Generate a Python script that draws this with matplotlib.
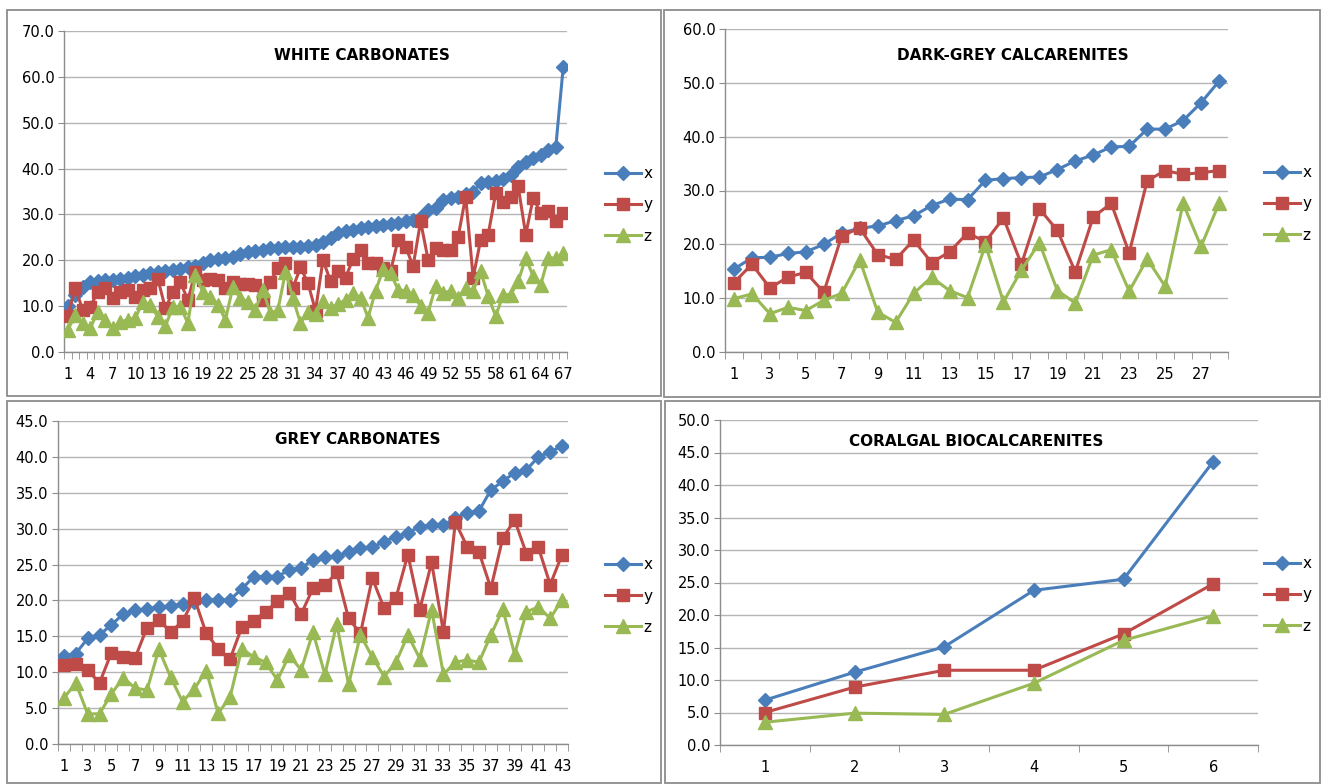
import matplotlib
matplotlib.use('Agg')
import matplotlib.pyplot as plt
from matplotlib.patches import Rectangle
from matplotlib.ticker import FixedLocator, FormatStrFormatter

# --- data ---
wc_x = [10.0, 12.5, 14.2, 15.2, 15.4, 15.6, 15.8, 16.0, 16.2, 16.5,
        16.9, 17.2, 17.5, 17.7, 17.9, 18.2, 18.5, 18.8, 19.5, 20.0,
        20.2, 20.4, 20.8, 21.3, 21.8, 22.0, 22.3, 22.6, 22.7, 22.8,
        22.9, 23.0, 23.1, 23.3, 23.9, 24.9, 26.0, 26.3, 26.6, 27.0,
        27.2, 27.4, 27.6, 27.9, 28.2, 28.5, 28.8, 29.5, 31.0, 31.3,
        33.2, 33.6, 33.9, 34.4, 35.0, 36.8, 37.0, 37.2, 37.8, 38.6,
        40.4, 41.5, 42.2, 43.0, 44.1, 44.6, 62.2]
wc_y = [7.9, 13.9, 9.2, 9.9, 13.1, 13.9, 11.7, 13.1, 13.5, 12.1,
        13.5, 13.9, 16.0, 9.5, 13.1, 15.3, 11.3, 17.5, 15.7, 16.0,
        15.7, 13.9, 15.3, 14.9, 14.9, 14.6, 11.3, 15.3, 18.3, 19.4,
        14.0, 18.5, 15.0, 9.0, 20.1, 15.4, 17.6, 16.2, 20.3, 22.3,
        19.4, 19.4, 18.3, 17.6, 24.5, 23.0, 18.7, 28.5, 20.1, 22.7,
        22.3, 22.3, 25.1, 33.9, 16.2, 24.5, 25.6, 34.6, 32.8, 33.9,
        36.1, 25.6, 33.6, 30.3, 30.7, 28.5, 30.3]
wc_z = [4.8, 8.1, 6.3, 5.2, 8.8, 7.0, 5.2, 6.6, 7.0, 7.4,
        11.0, 10.3, 7.7, 5.6, 9.9, 9.9, 6.3, 16.8, 13.1, 12.1,
        10.3, 7.0, 14.2, 11.7, 11.0, 9.2, 13.5, 8.4, 9.2, 17.5,
        11.7, 6.3, 8.8, 8.2, 11.1, 9.6, 10.4, 11.4, 12.9, 11.8,
        7.5, 13.3, 18.0, 17.2, 13.6, 13.3, 12.5, 10.0, 8.6, 14.3,
        12.9, 13.3, 11.8, 14.0, 13.3, 17.6, 12.2, 7.8, 12.5, 12.5,
        15.4, 20.5, 16.5, 14.7, 20.5, 20.5, 21.6]

dg_x = [15.4, 17.5, 17.6, 18.3, 18.6, 20.0, 22.1, 23.0, 23.4, 24.4,
        25.3, 27.2, 28.4, 28.3, 31.9, 32.2, 32.4, 32.5, 33.9, 35.5,
        36.6, 38.1, 38.2, 41.4, 41.4, 43.0, 46.3, 50.3]
dg_y = [12.9, 16.3, 11.9, 13.9, 14.8, 11.1, 21.6, 23.0, 18.1, 17.2,
        20.8, 16.6, 18.6, 22.1, 20.5, 24.9, 16.3, 26.6, 22.6, 14.9,
        25.1, 27.6, 18.4, 31.8, 33.7, 33.0, 33.3, 33.7]
dg_z = [9.9, 10.8, 7.1, 8.3, 7.7, 9.6, 10.9, 17.1, 7.4, 5.5,
        10.9, 13.9, 11.4, 10.1, 19.9, 9.3, 15.2, 20.3, 11.4, 9.1,
        18.0, 19.0, 11.3, 17.3, 12.2, 27.6, 19.6, 27.6]

gc_x = [12.3, 12.6, 14.7, 15.2, 16.6, 18.1, 18.6, 18.8, 19.1, 19.2,
        19.5, 19.8, 20.1, 20.1, 20.1, 21.6, 23.3, 23.3, 23.3, 24.3,
        24.5, 25.7, 26.0, 26.2, 26.7, 27.3, 27.4, 28.2, 28.9, 29.4,
        30.3, 30.5, 30.5, 31.5, 32.2, 32.5, 35.4, 36.6, 37.8, 38.2,
        40.0, 40.7, 41.5]
gc_y = [11.0, 11.2, 10.3, 8.5, 12.7, 12.1, 12.0, 16.2, 17.3, 15.6,
        17.1, 20.3, 15.4, 13.3, 11.8, 16.3, 17.2, 18.4, 19.9, 21.1,
        18.1, 21.7, 22.1, 23.9, 17.5, 15.4, 23.1, 18.9, 20.4, 26.4,
        18.7, 25.3, 15.6, 30.9, 27.5, 26.7, 21.7, 28.7, 31.2, 26.5,
        27.4, 22.2, 26.4]
gc_z = [6.4, 8.5, 4.2, 4.2, 7.0, 9.2, 7.8, 7.5, 13.2, 9.3,
        5.9, 7.7, 10.2, 4.3, 6.5, 13.3, 12.1, 11.4, 8.9, 12.4,
        10.3, 15.6, 9.7, 16.7, 8.3, 15.2, 12.1, 9.4, 11.4, 15.2,
        11.9, 18.7, 9.7, 11.4, 11.7, 11.4, 15.2, 18.8, 12.5, 18.4,
        19.1, 17.5, 20.1]

cb_x = [6.9, 11.2, 15.1, 23.8, 25.5, 43.6]
cb_y = [5.0, 8.9, 11.5, 11.5, 17.1, 24.8]
cb_z = [3.5, 4.9, 4.7, 9.5, 16.1, 19.9]

series_names = ["x", "y", "z"]
colors = ["#4A7EBB", "#BE4B48", "#98B954"]
markers = ["D", "s", "^"]
msizes = [6.8, 8.8, 9.8]

W, H = 1326, 784
plt.rcParams['font.family'] = ['DejaVu Sans']
fig = plt.figure(figsize=(W / 100, H / 100), dpi=100)


def px_rect(L, R, T, B):
    return [L / W, 1 - B / H, (R - L) / W, (B - T) / H]


def draw_panel(rect, title, title_xy, legend_xy, data, ymax, ystep, every):
    ax = fig.add_axes(px_rect(*rect))
    n = len(data[0])
    cats = list(range(1, n + 1))
    for vals, name, c, m, ms in zip(data, series_names, colors, markers, msizes):
        ax.plot(cats, vals, color=c, lw=2.2, marker=m, ms=ms, mfc=c, mec=c,
                label=name, zorder=3)
    ax.set_xlim(0.5, n + 0.5)
    ax.set_ylim(0, ymax)
    yt = [i * ystep for i in range(int(round(ymax / ystep)) + 1)]
    ax.set_yticks(yt)
    ax.yaxis.set_major_formatter(FormatStrFormatter('%.1f'))
    ax.set_xticks(cats[::every])
    ax.set_xticklabels([str(c) for c in cats[::every]])
    ax.xaxis.set_minor_locator(FixedLocator([i + 0.5 for i in range(n + 1)]))
    ax.tick_params(axis='x', which='major', length=0, pad=11, labelsize=10.5)
    ax.tick_params(axis='x', which='minor', length=5, color='#8c8c8c', direction='out')
    ax.tick_params(axis='y', length=4, color='#8c8c8c', labelsize=10.5, pad=3)
    ax.grid(axis='y', color='#b5b5b5', lw=1)
    ax.set_axisbelow(True)
    for s in ['top', 'right']:
        ax.spines[s].set_visible(False)
    for s in ['left', 'bottom']:
        ax.spines[s].set_color('#8c8c8c')
        ax.spines[s].set_linewidth(1)
    fig.text(title_xy[0] / W, 1 - title_xy[1] / H, title, ha='center', va='center',
             fontsize=11, fontweight='bold')
    ax.legend(loc='center left', bbox_to_anchor=(legend_xy[0] / W, 1 - legend_xy[1] / H),
              bbox_transform=fig.transFigure, frameon=False, fontsize=11,
              handlelength=2.4, handletextpad=0.15, labelspacing=1.05, borderpad=0)
    return ax


draw_panel((64, 567, 31, 352), "WHITE CARBONATES", (362, 55), (597, 205),
           [wc_x, wc_y, wc_z], 70, 10, 3)
draw_panel((725, 1228, 29, 352), "DARK-GREY CALCARENITES", (1013, 56), (1256, 204),
           [dg_x, dg_y, dg_z], 60, 10, 2)
draw_panel((58, 568, 421, 744), "GREY CARBONATES", (358, 439), (597, 596),
           [gc_x, gc_y, gc_z], 45, 5, 2)
draw_panel((720, 1258, 420, 745), "CORALGAL BIOCALCARENITES", (976, 441), (1256, 595),
           [cb_x, cb_y, cb_z], 50, 5, 1)

# panel frames
for (L, T, R, B) in [(7, 10, 661, 396), (664, 10, 1320, 397),
                     (7, 401, 661, 783), (665, 401, 1320, 783)]:
    fig.add_artist(Rectangle((L / W, 1 - B / H), (R - L) / W, (B - T) / H,
                             transform=fig.transFigure, fill=False,
                             edgecolor='#8c8c8c', lw=1.3))

fig.savefig("out.png", dpi=100)
